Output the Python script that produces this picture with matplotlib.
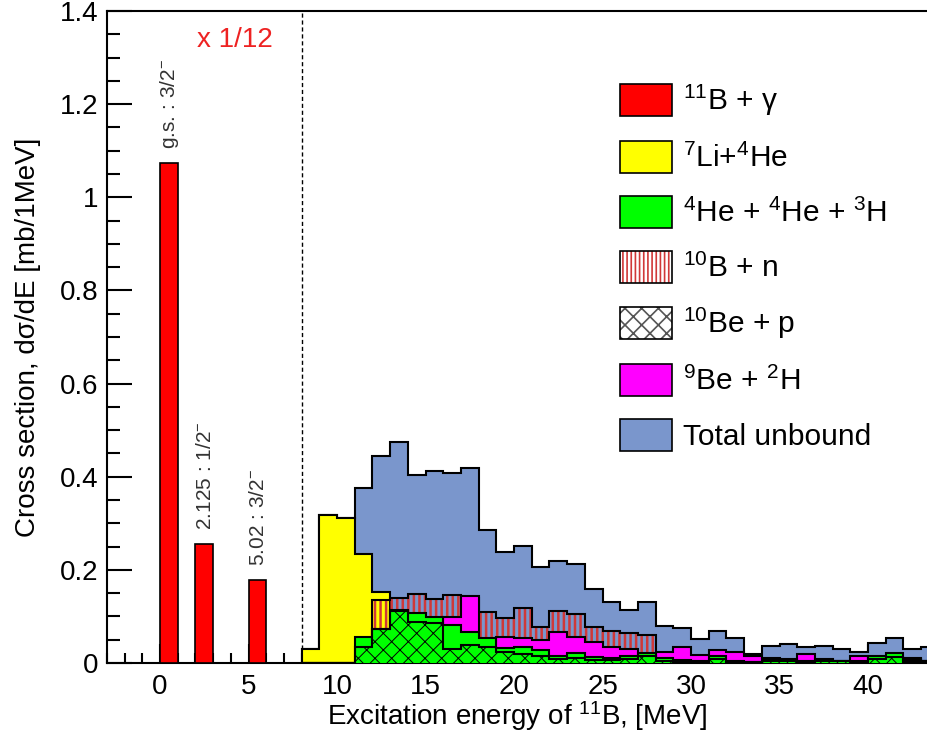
import numpy as np
import matplotlib
matplotlib.use('Agg')
import matplotlib.pyplot as plt
from matplotlib.patches import Patch
from matplotlib.ticker import MultipleLocator, FuncFormatter

plt.rcParams['font.family'] = ['Liberation Sans', 'DejaVu Sans']
plt.rcParams['mathtext.fontset'] = 'custom'
plt.rcParams['mathtext.rm'] = 'Liberation Sans'
plt.rcParams['mathtext.it'] = 'Liberation Sans:italic'
plt.rcParams['hatch.linewidth'] = 1.2

# bound states of 11B (1 MeV bins), scaled x 1/12
state_lo = [0, 2, 5]
state_xs = [1.074, 0.255, 0.178]
state_names = ['g.s. : 3/2$^{-}$', '2.125 : 1/2$^{-}$', '5.02 : 3/2$^{-}$']

# unbound region, 1 MeV bins from 8 to 44 MeV
edges = np.arange(8, 45)
total = [0.031, 0.318, 0.312, 0.376, 0.445, 0.474, 0.403, 0.412, 0.408, 0.418,
         0.286, 0.238, 0.252, 0.206, 0.220, 0.212, 0.158, 0.131, 0.114, 0.130,
         0.079, 0.075, 0.051, 0.068, 0.054, 0.020, 0.036, 0.041, 0.035, 0.037,
         0.029, 0.024, 0.044, 0.054, 0.030, 0.034]
li_he = [0.031, 0.318, 0.312, 0.234, 0.152, 0, 0, 0, 0, 0,
         0, 0, 0, 0, 0, 0, 0, 0, 0, 0,
         0, 0, 0, 0, 0, 0, 0, 0, 0, 0,
         0, 0, 0, 0, 0, 0]
b10_n = [0, 0, 0, 0, 0.135, 0.140, 0.148, 0.137, 0.147, 0.140,
         0.109, 0.096, 0.119, 0.078, 0.112, 0.105, 0.077, 0.069, 0.065, 0.061,
         0.006, 0.004, 0.003, 0.004, 0.003, 0.002, 0.003, 0.003, 0.002, 0.003,
         0.002, 0.002, 0.004, 0.005, 0.010, 0.004]
be9_d = [0, 0, 0, 0, 0, 0, 0, 0, 0.099, 0.144,
         0.040, 0.056, 0.054, 0.049, 0.067, 0.056, 0.046, 0.035, 0.029, 0.018,
         0.024, 0.034, 0.017, 0.028, 0.024, 0.014, 0.010, 0.005, 0.019, 0.005,
         0.005, 0.015, 0.010, 0.010, 0.008, 0.005]
he_he_t = [0, 0, 0, 0.056, 0.074, 0.114, 0.108, 0.099, 0.0815, 0.067,
           0.053, 0.033, 0.035, 0.028, 0.014, 0.021, 0.012, 0.010, 0.014, 0.021,
           0.010, 0.006, 0.005, 0.015, 0.005, 0.003, 0.008, 0.008, 0.004, 0.008,
           0.004, 0.004, 0.015, 0.022, 0.006, 0.005]
be10_p = [0, 0, 0, 0.035, 0.074, 0.112, 0.089, 0.085, 0.031, 0.038,
          0.035, 0.024, 0.020, 0.015, 0.008, 0.010, 0.006, 0.006, 0.008, 0.015,
          0.005, 0.003, 0.003, 0.008, 0.003, 0.002, 0.005, 0.004, 0.002, 0.004,
          0.004, 0.002, 0.008, 0.012, 0.003, 0.003]

c_red = '#ff0000'
c_yel = '#ffff00'
c_grn = '#00ff00'
c_mag = '#ff00ff'
c_blu = '#7a96cc'
c_hatch = '#d03838'

fig = plt.figure(figsize=(9.28, 7.38), dpi=100)
ax = fig.add_axes([107 / 928, 75 / 738, 821 / 928, 652 / 738])


def hatch_lw(patch, lw):
    if hasattr(patch, 'set_hatch_linewidth'):
        patch.set_hatch_linewidth(lw)
    return patch


def hist(vals, z, face=None, hatch=None, hcol=None, hlw=1.2):
    if hatch is None:
        ax.stairs(vals, edges, fill=True, facecolor=face, edgecolor='none', zorder=z)
    else:
        p = ax.stairs(vals, edges, fill=True, facecolor='none', edgecolor=hcol,
                      hatch=hatch, linewidth=0, zorder=z)
        hatch_lw(p, hlw)
    ax.stairs(vals, edges, color='black', linewidth=1.5, zorder=z + 0.1)


hist(total, 2, face=c_blu)
hist(li_he, 3, face=c_yel)
hist(b10_n, 4, hatch='|||', hcol=c_hatch, hlw=1.8)
hist(be9_d, 5, face=c_mag)
hist(he_he_t, 6, face=c_grn)
hist(be10_p, 7, hatch='xx', hcol='black', hlw=0.7)

ax.bar(state_lo, state_xs, width=1, align='edge', color=c_red,
       edgecolor='black', linewidth=1.2, zorder=3)
for lo, v, name in zip(state_lo, state_xs, state_names):
    ax.text(lo + 0.55, v + 0.03, name, rotation=90, ha='center', va='bottom',
            fontsize=15, color='#333333')

ax.axvline(8, color='black', linestyle=(0, (3, 2)), linewidth=1, zorder=1)
ax.text(2.1, 1.337, 'x 1/12', color='#ee2222', fontsize=20, va='center')

ax.set_xlim(-3, -3 + 821 / 17.7)
ax.set_ylim(0, 1.4)
ax.xaxis.set_major_locator(MultipleLocator(5))
ax.xaxis.set_minor_locator(MultipleLocator(1))
ax.yaxis.set_major_locator(MultipleLocator(0.2))
ax.yaxis.set_minor_locator(MultipleLocator(0.05))
ax.yaxis.set_major_formatter(FuncFormatter(lambda v, p: f'{v:g}'))
ax.tick_params(which='both', direction='in', width=1.5, labelsize=20, colors='black')
ax.tick_params(axis='y', which='major', length=18, pad=6)
ax.tick_params(axis='y', which='minor', length=9)
ax.tick_params(axis='x', which='major', length=14, pad=8)
ax.tick_params(axis='x', which='minor', length=7)
ax.spines['right'].set_visible(False)
for s in ['left', 'top', 'bottom']:
    ax.spines[s].set_linewidth(1.5)

ax.set_xlabel('Excitation energy of $^{11}$B, [MeV]', fontsize=20)
ax.set_ylabel('Cross section, dσ/dE [mb/1MeV]', fontsize=20)
ax.yaxis.set_label_coords(-0.08, 0.5)
ax.xaxis.set_label_coords(0.5, -0.055)

handles = [
    Patch(facecolor=c_red, edgecolor='black', linewidth=1.2),
    Patch(facecolor=c_yel, edgecolor='black', linewidth=1.2),
    Patch(facecolor=c_grn, edgecolor='black', linewidth=1.2),
    (hatch_lw(Patch(facecolor='white', edgecolor=c_hatch, hatch='||||', linewidth=0), 1.5),
     Patch(facecolor='none', edgecolor='black', linewidth=1.2)),
    (hatch_lw(Patch(facecolor='white', edgecolor='#555555', hatch='xx', linewidth=0), 0.6),
     Patch(facecolor='none', edgecolor='black', linewidth=1.2)),
    Patch(facecolor=c_mag, edgecolor='black', linewidth=1.2),
    Patch(facecolor=c_blu, edgecolor='black', linewidth=1.2),
]
labels = ['$^{11}$B + γ', '$^{7}$Li+$^{4}$He', '$^{4}$He + $^{4}$He + $^{3}$H',
          '$^{10}$B + n', '$^{10}$Be + p', '$^{9}$Be + $^{2}$H', 'Total unbound']
ax.legend(handles, labels, loc='upper left', bbox_to_anchor=(513 / 821, 580 / 652),
          frameon=False, fontsize=21.5, handlelength=1.74, handleheight=1.27,
          handletextpad=0.37, labelspacing=0.77, borderpad=0, borderaxespad=0)

fig.savefig('out.png', dpi=100)
